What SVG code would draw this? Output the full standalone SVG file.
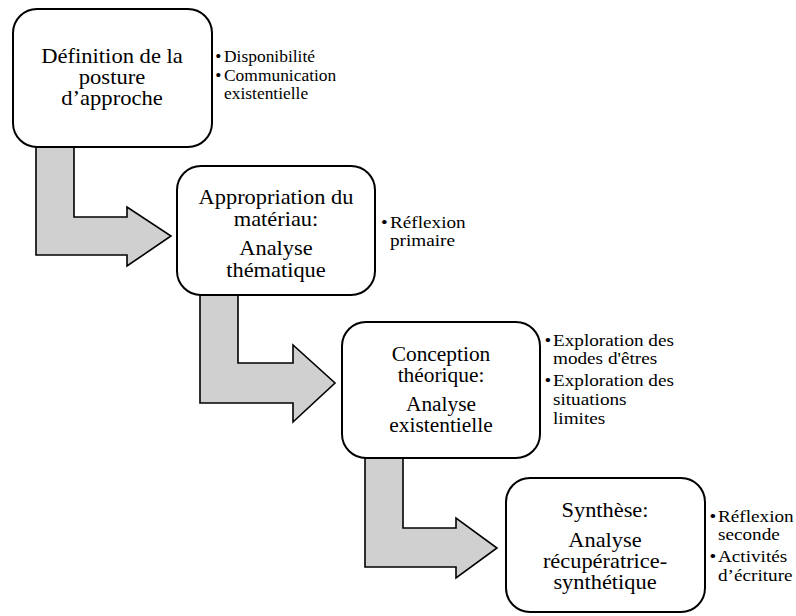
<svg xmlns="http://www.w3.org/2000/svg" width="796" height="616" viewBox="0 0 796 616">
<style>
.box{fill:#fff;stroke:#000;stroke-width:2}
.arr{fill:#d0d0d0;stroke:#000;stroke-width:1.6;stroke-linejoin:miter}
.t{font-family:"Liberation Serif","Times New Roman",serif;font-size:20px;fill:#000;text-anchor:middle}
.b{font-family:"Liberation Serif","Times New Roman",serif;font-size:16px;fill:#000}
</style>
<rect width="796" height="616" fill="#fff"/>
<g id="connectors">
<polygon class="arr" points="36,147 74,147 74,217 127,217 127,207 171,236 127,266 127,255 36,255"/>
<polygon class="arr" points="200,295 238,295 238,363 293,363 293,345 335,383 293,422 293,403 200,403"/>
<polygon class="arr" points="365,458 403,458 403,528 456,528 456,518 497,548 456,578 456,567 365,567"/>
</g>
<g id="node1">
<rect class="box" x="13" y="9" width="199" height="138" rx="24"/>
<g transform="translate(112,0) scale(1.13,1)">
<text class="t" x="0" y="63">Définition de la</text>
<text class="t" x="0" y="84">posture</text>
<text class="t" x="0" y="105">d’approche</text>
</g>
<g transform="translate(224,0) scale(1.09,1)">
<text class="b" x="-8" y="62">•</text><text class="b" x="0" y="62">Disponibilité</text>
<text class="b" x="-8" y="81">•</text><text class="b" x="0" y="81">Communication</text>
<text class="b" x="0" y="99">existentielle</text>
</g>
</g>
<g id="node2">
<rect class="box" x="177" y="166" width="198" height="129" rx="24"/>
<g transform="translate(276,0) scale(1.12,1)">
<text class="t" x="0" y="204">Appropriation du</text>
<text class="t" x="0" y="226">matériau:</text>
<text class="t" x="0" y="255">Analyse</text>
<text class="t" x="0" y="277">thématique</text>
</g>
<g transform="translate(390,0) scale(1.2,1)">
<text class="b" x="-7.5" y="228">•</text><text class="b" x="0" y="228">Réflexion</text>
<text class="b" x="0" y="246">primaire</text>
</g>
</g>
<g id="node3">
<rect class="box" x="342" y="322" width="198" height="136" rx="24"/>
<g transform="translate(441,0) scale(1.07,1)">
<text class="t" x="0" y="361">Conception</text>
<text class="t" x="0" y="382">théorique:</text>
<text class="t" x="0" y="411">Analyse</text>
<text class="t" x="0" y="432">existentielle</text>
</g>
<g transform="translate(553,0) scale(1.2,1)">
<text class="b" x="-7" y="346">•</text><text class="b" x="0" y="346">Exploration des</text>
<text class="b" x="0" y="364">modes d'êtres</text>
<text class="b" x="-7" y="386">•</text><text class="b" x="0" y="386">Exploration des</text>
<text class="b" x="0" y="405">situations</text>
<text class="b" x="0" y="424">limites</text>
</g>
</g>
<g id="node4">
<rect class="box" x="506" y="478" width="199" height="134" rx="24"/>
<g transform="translate(605,0) scale(1.12,1)">
<text class="t" x="0" y="517">Synthèse:</text>
<text class="t" x="0" y="547">Analyse</text>
<text class="t" x="0" y="568">récupératrice-</text>
<text class="t" x="0" y="589">synthétique</text>
</g>
<g transform="translate(718,0) scale(1.2,1)">
<text class="b" x="-7" y="522">•</text><text class="b" x="0" y="522">Réflexion</text>
<text class="b" x="0" y="540">seconde</text>
<text class="b" x="-7" y="562">•</text><text class="b" x="0" y="562">Activités</text>
<text class="b" x="0" y="581">d’écriture</text>
</g>
</g>
</svg>
